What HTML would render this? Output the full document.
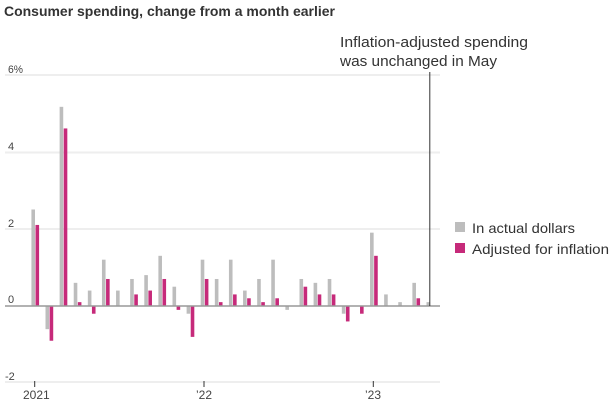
<!DOCTYPE html>
<html><head><style>body{margin:0;background:#fff}svg{display:block}text{font-family:"Liberation Sans",sans-serif}</style></head>
<body>
<svg width="615" height="411" xmlns="http://www.w3.org/2000/svg">
<text x="4" y="16" font-size="14" font-weight="bold" fill="#333" textLength="331" lengthAdjust="spacingAndGlyphs">Consumer spending, change from a month earlier</text>
<g stroke="#eeeeee" stroke-width="2">
<line x1="5" x2="440" y1="75" y2="75"/>
<line x1="5" x2="440" y1="152.5" y2="152.5"/>
<line x1="5" x2="440" y1="229" y2="229"/>
<line x1="5" x2="440" y1="382" y2="382"/>
</g>
<g font-size="11" fill="#444">
<text x="8" y="73" textLength="15" lengthAdjust="spacingAndGlyphs">6%</text>
<text x="8" y="150">4</text>
<text x="8" y="227">2</text>
<text x="8" y="303">0</text>
<text x="5" y="380">-2</text>
<text x="23" y="399" font-size="12">2021</text>
<text x="196" y="399" font-size="12">’22</text>
<text x="365" y="399" font-size="12">’23</text>
</g>
<g stroke="#333" stroke-width="1">
<line x1="34.7" x2="34.7" y1="381" y2="387"/>
<line x1="204" x2="204" y1="381" y2="387"/>
<line x1="373.3" x2="373.3" y1="381" y2="387"/>
</g>
<g id="bars"></g>
<line x1="5" x2="440" y1="306" y2="306" stroke="#999" stroke-width="1.5"/>
<line x1="429.8" x2="429.8" y1="72" y2="306" stroke="#333" stroke-width="1"/>
<text x="340" y="47" font-size="15" fill="#333" textLength="188" lengthAdjust="spacingAndGlyphs">Inflation-adjusted spending</text>
<text x="340" y="66" font-size="15" fill="#333" textLength="157" lengthAdjust="spacingAndGlyphs">was unchanged in May</text>
<rect x="455" y="222" width="10" height="10" fill="#bdbdbd"/>
<rect x="455" y="243" width="10" height="10" fill="#c62a7a"/>
<text x="472" y="233" font-size="14" fill="#333" textLength="103" lengthAdjust="spacingAndGlyphs">In actual dollars</text>
<text x="472" y="254" font-size="14" fill="#333" textLength="137" lengthAdjust="spacingAndGlyphs">Adjusted for inflation</text>
</svg>
<script>
var d=[[2.5,2.1],[-0.6,-0.9],[5.16,4.6],[0.6,0.1],[0.4,-0.2],[1.2,0.7],[0.4,0],[0.7,0.3],[0.8,0.4],[1.3,0.7],[0.5,-0.1],[-0.2,-0.8],[1.2,0.7],[0.7,0.1],[1.2,0.3],[0.4,0.2],[0.7,0.1],[1.2,0.2],[-0.1,0],[0.7,0.5],[0.6,0.3],[0.7,0.3],[-0.2,-0.4],[0,-0.2],[1.9,1.3],[0.3,0],[0.1,0],[0.6,0.2],[0.1,0]];
var g=document.getElementById('bars'),s='',u=38.6,z=306;
d.forEach(function(p,i){var x=34.7+i*14.11;
[[p[0],x-3.3,'#bdbdbd'],[p[1],x+0.8,'#c62a7a']].forEach(function(b){if(b[0]==0)return;var h=Math.abs(b[0])*u,y=b[0]>0?z-h:z;
s+='<rect x="'+b[1]+'" y="'+y+'" width="3.6" height="'+h+'" fill="'+b[2]+'"/>';});});
g.innerHTML=s;
</script>
</body></html>
